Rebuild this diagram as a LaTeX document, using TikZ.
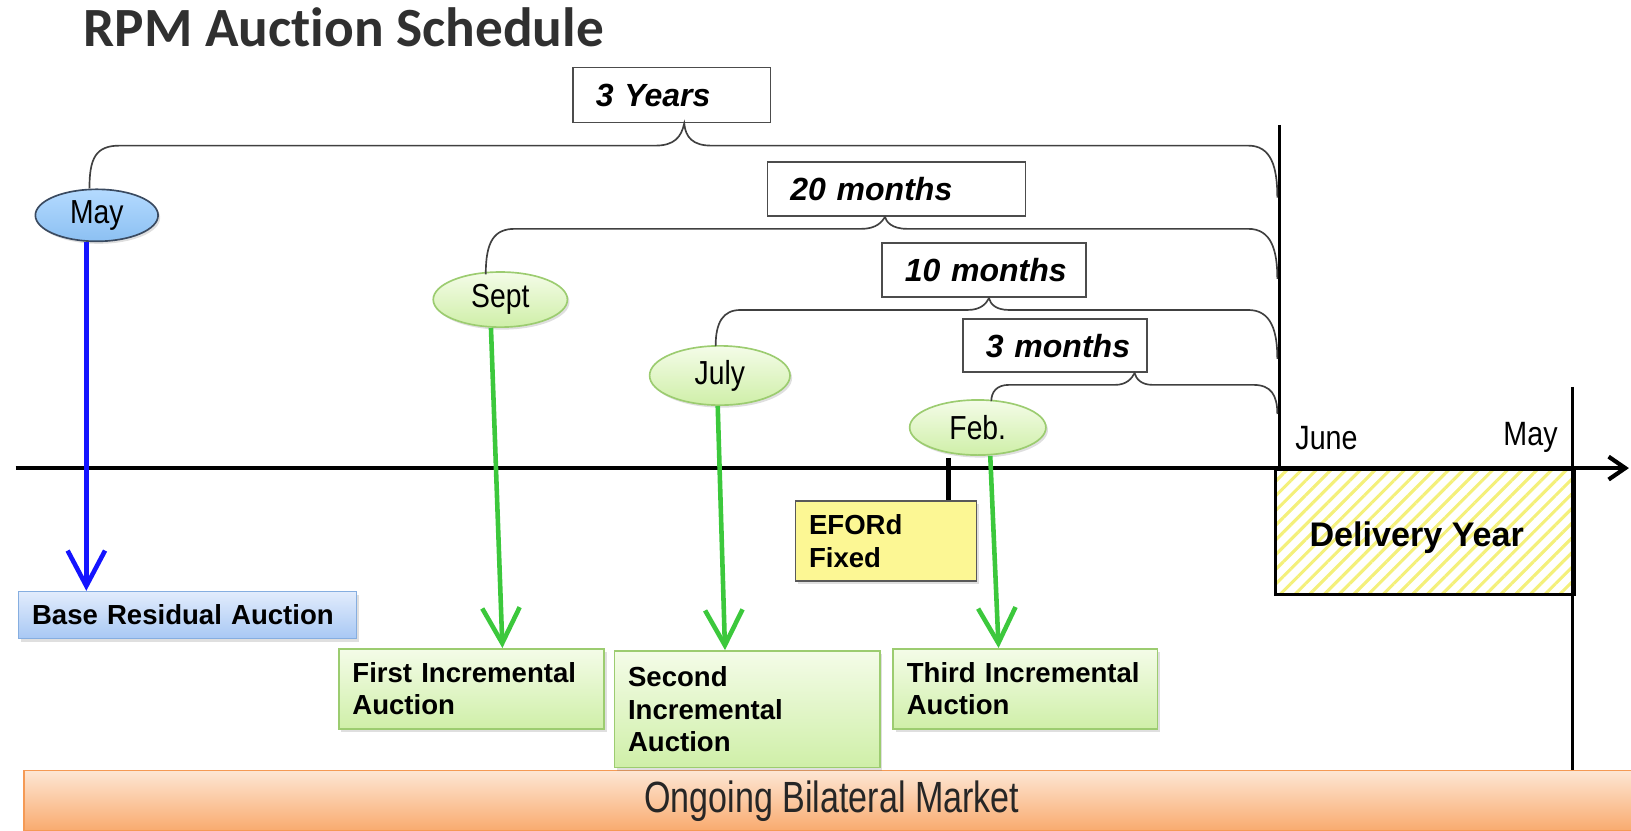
\documentclass[tikz,border=0pt]{standalone}
\usepackage{fontspec}
\setmainfont{Liberation Sans}
\newfontfamily\narrowfont[FakeStretch=0.85]{Liberation Sans}
\newfontfamily\barfont[FakeStretch=0.78]{Liberation Sans}
\newfontfamily\titlefont[Ligatures=NoCommon]{Carlito}
\usetikzlibrary{calc,arrows.meta,shapes.geometric,shadows,patterns.meta}
\definecolor{titlegray}{HTML}{303030}
\definecolor{bracegray}{HTML}{404040}
\definecolor{arrowblue}{HTML}{1414FF}
\definecolor{arrowgreen}{HTML}{3CC83C}
\definecolor{maytop}{HTML}{B4DAFF}
\definecolor{maybot}{HTML}{8CC0F2}
\definecolor{mayedge}{HTML}{3A4A60}
\definecolor{gtop}{HTML}{F4FCE8}
\definecolor{gbot}{HTML}{CFEFA8}
\definecolor{gedge}{HTML}{9CCC70}
\definecolor{btop}{HTML}{E2ECFC}
\definecolor{bbot}{HTML}{A8C8F4}
\definecolor{bedge}{HTML}{86AEE0}
\definecolor{efordfill}{HTML}{FCF794}
\definecolor{otop}{HTML}{FDE6D4}
\definecolor{obot}{HTML}{F9AA6E}
\definecolor{oedge}{HTML}{F59A55}
\definecolor{stripe}{HTML}{F4F07A}
\begin{document}
\begin{tikzpicture}[x=0.5pt,y=-0.5pt,
  durbox/.style={draw=black!70, line width=0.8pt, fill=white, anchor=north west,
    inner xsep=11pt, inner ysep=0pt, align=left,
    font=\bfseries\itshape\fontsize{15.4}{18}\selectfont},
  month/.style={ellipse, inner sep=0pt, line width=0.8pt,
    font=\narrowfont\fontsize{16}{18}\selectfont,
    drop shadow={shadow xshift=1pt, shadow yshift=-1.2pt, opacity=0.25}},
  greenmonth/.style={month, draw=gedge, top color=gtop, bottom color=gbot},
  auction/.style={anchor=north west, inner xsep=6.5pt, inner ysep=0pt, align=left,
    line width=0.8pt, font=\bfseries\fontsize{13.25}{15.5}\selectfont,
    drop shadow={shadow xshift=1.2pt, shadow yshift=-1.5pt, opacity=0.25}},
  greenbox/.style={auction, draw=gedge, top color=gtop, bottom color=gbot},
  brace/.style={draw=bracegray, line width=0.8pt},
  timeline/.style={line width=2pt, -{Straight Barb[length=8pt,width=11pt]}},
  vline/.style={line width=1.5pt},
  bluearrow/.style={draw=arrowblue, line width=2.2pt, -{Straight Barb[length=17pt,width=18pt]}},
  greenarrow/.style={draw=arrowgreen, line width=2.2pt, -{Straight Barb[length=17pt,width=18pt]}}
]
\useasboundingbox (0,0) rectangle (1568,798);

% title
\node[anchor=base west, inner sep=0pt, text=titlegray,
  font=\titlefont\bfseries\fontsize{26.6}{30}\selectfont] (title) at (80,45) {RPM Auction Schedule};

% ongoing bilateral market
\node[anchor=north west, minimum width=773pt, minimum height=29pt, inner sep=0pt,
  draw=oedge, line width=0.8pt, top color=otop, bottom color=obot,
  font=\barfont\fontsize{21}{24}\selectfont, text=black!85] (bilateral) at (22,740) {\kern4pt Ongoing Bilateral Market};

% delivery year
\node[anchor=north west, minimum width=143.5pt, minimum height=60pt, inner sep=0pt,
  draw=black, line width=1.5pt,
  pattern={Lines[angle=45,distance=5pt,line width=1.5pt]}, pattern color=stripe,
  font=\bfseries\fontsize{16.4}{19}\selectfont] (delivery) at (1225,450) {\kern-8pt\raisebox{-7pt}[0pt][0pt]{Delivery Year}};

% timeline and vertical lines
\coordinate (tl0) at (15,450);
\coordinate (tl1) at (1566,450);
\coordinate (vtop) at (1230,120);
\coordinate (dtop) at (1512,372);
\draw[vline] (vtop) -- (vtop |- tl0);
\draw[vline] (dtop) -- (dtop |- bilateral.north);
\draw[timeline] (tl0) -- (tl1);

\node[anchor=base west, inner sep=0pt, font=\narrowfont\fontsize{16.2}{19}\selectfont] (june) at (1245,432) {June};
\node[anchor=base west, inner sep=0pt, font=\narrowfont\fontsize{16.2}{19}\selectfont] (maylabel) at (1445,428) {May};

% duration boxes
\node[durbox, minimum width=95pt, minimum height=26.5pt, text width=73pt] (y3) at (550,64) {\mbox{3 Years}};
\node[durbox, minimum width=124pt, minimum height=26pt, text width=102pt] (m20) at (737,155) {\mbox{20 months}};
\node[durbox, minimum width=98pt, minimum height=26pt, text width=76pt] (m10) at (847,233) {\mbox{10 months}};
\node[durbox, minimum width=88.5pt, minimum height=25.5pt, text width=66.5pt] (m3) at (925,306) {\mbox{3 months}};

% month ellipses
\node[month, draw=mayedge, top color=maytop, bottom color=maybot,
  minimum width=59pt, minimum height=25pt] (may) at (93,207) {May};
\node[greenmonth, minimum width=64.5pt, minimum height=26.5pt] (sept) at (481,288) {Sept};
\node[greenmonth, minimum width=67.5pt, minimum height=28.5pt] (july) at (692,361) {July};
\node[greenmonth, minimum width=65.5pt, minimum height=26.5pt] (feb) at (940,411) {Feb.};

% auction boxes
\node[auction, draw=bedge, top color=btop, bottom color=bbot,
  minimum width=162.5pt, minimum height=22.5pt, text width=149.5pt] (base) at (17,568) {\mbox{Base Residual Auction}};
\node[greenbox, minimum width=127.5pt, minimum height=38.5pt, text width=114.5pt] (first) at (325,623) {\mbox{First Incremental}\\Auction};
\node[greenbox, minimum width=127.5pt, minimum height=56pt, text width=114.5pt] (second) at (590,625) {Second\\Incremental\\Auction};
\node[greenbox, minimum width=127pt, minimum height=38.5pt, text width=114pt] (third) at (858,623) {\mbox{Third Incremental}\\Auction};
\node[auction, draw=black!65, fill=efordfill,
  minimum width=87pt, minimum height=38.5pt, text width=74pt] (eford) at (764,481) {EFORd\\Fixed};

% EFORd tick
\draw[line width=2.5pt] ($(eford.north east)+(-28,-41)$) -- ($(eford.north east)+(-28,0)$);

% braces
\draw[brace] ($(may.north)+(-7,0)$) .. controls (86,152) and (92,140) .. (115,140)
  -- (630,140) .. controls (648,140) and (655,132) .. ($(y3.south)+(12,0)$)
  .. controls (659,132) and (666,140) .. (684,140)
  -- (1200,140) .. controls (1222,140) and (1228,160) .. (1228,190);
\draw[brace] ($(sept.north)+(-14,3)$) .. controls (467,232) and (475,220) .. (495,220)
  -- (828,220) .. controls (843,220) and (848,213) .. ($(m20.south)+(-11,0)$)
  .. controls (852,213) and (857,220) .. (872,220)
  -- (1200,220) .. controls (1222,220) and (1228,240) .. (1228,268);
\draw[brace] ($(july.north)+(-4,1)$) .. controls (688,310) and (695,298) .. (712,298)
  -- (930,298) .. controls (943,298) and (948,292) .. ($(m10.south)+(5,0)$)
  .. controls (952,292) and (957,298) .. (970,298)
  -- (1200,298) .. controls (1222,298) and (1228,318) .. (1228,345);
\draw[brace] ($(feb.north)+(13,2)$) .. controls (953,377) and (958,370) .. (970,370)
  -- (1072,370) .. controls (1083,370) and (1088,364) .. ($(m3.south)+(76.5,0)$)
  .. controls (1092,364) and (1097,370) .. (1108,370)
  -- (1205,370) .. controls (1222,370) and (1228,380) .. (1228,398);

% arrows
\draw[bluearrow] ($(may.south)+(-10,0)$) -- ($(base.north west)+(66,0)$);
\draw[greenarrow] ($(sept.south)+(-9,0)$) -- ($(first.north west)+(158,0)$);
\draw[greenarrow] ($(july.south)+(-2,0)$) -- ($(second.north west)+(107,0)$);
\draw[greenarrow] ($(feb.south)+(12,0)$) -- ($(third.north west)+(102,0)$);
\end{tikzpicture}
\end{document}
